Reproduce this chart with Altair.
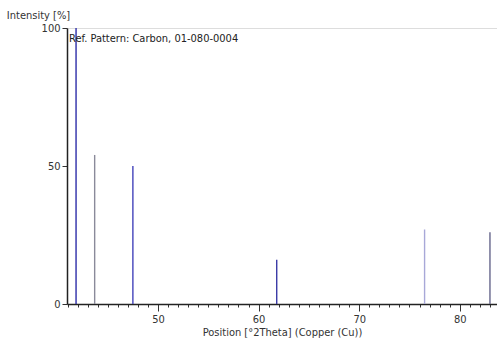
import altair as alt
import pandas as pd

# Reference pattern peaks (2-theta in degrees, relative intensity in %)
two_theta = [41.85, 43.7, 47.5, 61.8, 76.5, 83.0]
intensity = [100, 54, 50, 16, 27, 26]
peak_ids = ["p1", "p2", "p3", "p4", "p5", "p6"]
peak_colors = ["#2c2ca8", "#8a8a9a", "#4444bb", "#3a3aa6", "#a8a8d8", "#66668c"]

df = pd.DataFrame({"pos": two_theta, "inten": intensity, "peak": peak_ids})

FONT = "Liberation Sans Narrow, DejaVu Sans Condensed, Liberation Sans, sans-serif"

x_scale = alt.Scale(domain=[40.95, 83.7], nice=False, zero=False)
y_scale = alt.Scale(domain=[0, 100], nice=False)

bars = alt.Chart(df).mark_rule(strokeWidth=1.4).encode(
    x=alt.X("pos:Q", scale=x_scale,
            axis=alt.Axis(
                title="Position [°2Theta] (Copper (Cu))",
                values=list(range(41, 84)),
                labelExpr="datum.value % 10 === 0 ? datum.value : ''",
                tickSize={"condition": {"test": "datum.value % 10 === 0", "value": 7}, "value": 3},
                grid=False, domainColor="#222", domainWidth=1.5,
                tickColor="#333", labelFont=FONT, labelFontSize=11,
                labelColor="#333", titleFont=FONT, titleFontSize=11,
                titleFontWeight="normal", titleColor="#333",
                labelPadding=2, titlePadding=2,
            )),
    y=alt.Y("inten:Q", scale=y_scale,
            axis=alt.Axis(
                title="Intensity [%]", values=[0, 50, 100],
                grid=False, domainColor="#222", domainWidth=1.5,
                tickColor="#333", tickSize=5, labelFont=FONT,
                labelFontSize=11, labelColor="#333", titleFont=FONT,
                titleFontSize=11, titleFontWeight="normal", titleColor="#333",
                titleAngle=0, titleX=-29, titleY=-10, titleAlign="center",
                titleBaseline="alphabetic",
            )),
    y2=alt.datum(0),
    color=alt.Color("peak:N", scale=alt.Scale(domain=peak_ids, range=peak_colors), legend=None),
)

label = alt.Chart(pd.DataFrame({"t": ["Ref. Pattern: Carbon, 01-080-0004"]})).mark_text(
    align="left", baseline="alphabetic", font=FONT, fontSize=11, color="#222"
).encode(x=alt.value(2), y=alt.value(14), text="t:N")

chart = alt.layer(bars, label).properties(
    width=430, height=276,
    autosize=alt.AutoSizeParams(type="none"),
    padding={"left": 67, "top": 28, "right": 0, "bottom": 43},
).configure_view(stroke="#666", strokeWidth=1.5).configure(background="white")

chart.save("out.html", embed_options={"renderer": "svg", "actions": False})
